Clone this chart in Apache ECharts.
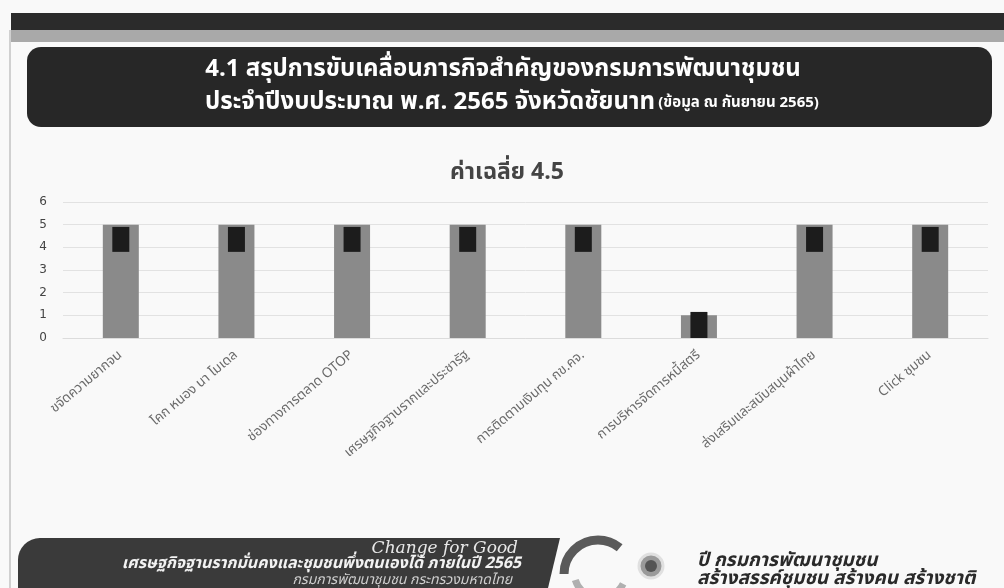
<!DOCTYPE html>
<html>
<head>
<meta charset="utf-8">
<script src="https://cdn.jsdelivr.net/npm/echarts@6/dist/echarts.min.js"></script>
<style>
html,body{margin:0;padding:0;background:#f9f9f9;}
#c{width:1004px;height:588px;}
</style>
</head>
<body>
<div id="c"></div>
<script>
const categories = ['ขจัดความยากจน','โคก หนอง นา โมเดล','ช่องทางการตลาด OTOP','เศรษฐกิจฐานรากและประชารัฐ','การติดตามเงินทุน กข.คจ.','การบริหารจัดการหนี้สตรี','ส่งเสริมและสนับสนุนผ้าไทย','Click ชุมชน'];
const scoreValues = [5, 5, 5, 5, 5, 1, 5, 5];
const markLow = [3.8, 3.8, 3.8, 3.8, 3.8, 0, 3.8, 3.8];
const markHigh = [4.9, 4.9, 4.9, 4.9, 4.9, 1.15, 4.9, 4.9];
const yTicks = [0, 1, 2, 3, 4, 5, 6];

const FONT = 'Tahoma, "Noto Sans Thai", "Noto Sans", sans-serif';
const chart = echarts.init(document.getElementById('c'));

const markSpan = markHigh.map((h, i) => +(h - markLow[i]).toFixed(2));

chart.setOption({
  backgroundColor: '#f9f9f9',
  animation: false,
  title: {
    text: 'ค่าเฉลี่ย 4.5',
    left: 502, top: 158, textAlign: 'center',
    textStyle: {fontFamily: FONT, fontSize: 23, fontWeight: 'bold', color: '#444'}
  },
  grid: {left: 63, right: 16, top: 202, height: 136, containLabel: false},
  xAxis: [
    {type: 'category', data: categories,
     axisLine: {show: true, lineStyle: {color: '#dcdcdc'}}, axisTick: {show: false},
     axisLabel: {rotate: 40, margin: 16, fontSize: 13.5, color: '#6a6a6a', fontFamily: FONT, interval: 0}},
    {type: 'category', data: categories, show: false}
  ],
  yAxis: {
    type: 'value', min: yTicks[0], max: yTicks[yTicks.length - 1], interval: 1,
    axisLine: {show: false}, axisTick: {show: false},
    axisLabel: {fontSize: 12, color: '#444', fontFamily: '"DejaVu Sans", sans-serif', margin: 16},
    splitLine: {lineStyle: {color: '#e2e2e2'}}
  },
  series: [
    {type: 'bar', xAxisIndex: 0, data: scoreValues, barWidth: 36,
     itemStyle: {color: '#8a8a8a'}, z: 2},
    {type: 'bar', xAxisIndex: 1, stack: 'm', data: markLow, barWidth: 17,
     itemStyle: {color: 'rgba(0,0,0,0)'}, z: 3},
    {type: 'bar', xAxisIndex: 1, stack: 'm', data: markSpan, barWidth: 17,
     itemStyle: {color: '#1c1c1c'}, z: 3}
  ],
  graphic: [
    {type: 'rect', shape: {x: 11, y: 13, width: 993, height: 17}, style: {fill: '#2b2b2b'}},
    {type: 'rect', shape: {x: 11, y: 30, width: 993, height: 12}, style: {fill: '#a9a9a9'}},
    {type: 'rect', shape: {x: 9, y: 30, width: 2, height: 558}, style: {fill: '#d0d0d0'}},
    {type: 'rect', shape: {x: 27, y: 47, width: 965, height: 80, r: 14}, style: {fill: '#272727'}},
    {type: 'text', x: 503, y: 71, style: {text: '4.1 สรุปการขับเคลื่อนภารกิจสำคัญของกรมการพัฒนาชุมชน', fill: '#fff', font: 'bold 24px ' + FONT, textAlign: 'center', textVerticalAlign: 'middle'}},
    {type: 'text', x: 512, y: 104, style: {
      text: '{a|ประจำปีงบประมาณ พ.ศ. 2565 จังหวัดชัยนาท} {b|(ข้อมูล ณ กันยายน 2565)}',
      rich: {a: {fill: '#fff', font: 'bold 24px ' + FONT}, b: {fill: '#fff', font: 'bold 15px ' + FONT}},
      textAlign: 'center', textVerticalAlign: 'middle'}},
    {type: 'polygon', shape: {points: [[40, 538], [540, 538], [560, 538], [548, 588], [18, 588], [18, 560]]}, style: {fill: '#3a3a3a'}},
    {type: 'rect', shape: {x: 18, y: 538, width: 60, height: 50, r: [22, 0, 0, 0]}, style: {fill: '#3a3a3a'}},
    {type: 'text', x: 518, y: 549, style: {text: 'Change for Good', fill: '#e8e8e8', font: 'italic 17px "DejaVu Serif", serif', textAlign: 'right', textVerticalAlign: 'middle'}},
    {type: 'text', x: 521, y: 565, style: {text: 'เศรษฐกิจฐานรากมั่นคงและชุมชนพึ่งตนเองได้ ภายในปี 2565', fill: '#f2f2f2', font: 'italic bold 16px ' + FONT, textAlign: 'right', textVerticalAlign: 'middle'}},
    {type: 'text', x: 512, y: 581, style: {text: 'กรมการพัฒนาชุมชน กระทรวงมหาดไทย', fill: '#cfcfcf', font: 'italic 14px ' + FONT, textAlign: 'right', textVerticalAlign: 'middle'}},
    {type: 'arc', shape: {cx: 598, cy: 574, r: 34, startAngle: Math.PI * 1.0, endAngle: Math.PI * 1.72}, style: {stroke: '#5a5a5a', lineWidth: 9, fill: null}},
    {type: 'arc', shape: {cx: 600, cy: 572, r: 26, startAngle: Math.PI * 0.15, endAngle: Math.PI * 0.9}, style: {stroke: '#b0b0b0', lineWidth: 7, fill: null}},
    {type: 'circle', shape: {cx: 651, cy: 566, r: 12}, style: {fill: '#9a9a9a', stroke: '#e0e0e0', lineWidth: 3}},
    {type: 'circle', shape: {cx: 651, cy: 566, r: 6}, style: {fill: '#555'}},
    {type: 'text', x: 697, y: 562, style: {text: 'ปี กรมการพัฒนาชุมชน', fill: '#2a2a2a', font: 'italic bold 19px ' + FONT, textVerticalAlign: 'middle'}},
    {type: 'text', x: 697, y: 580, style: {text: 'สร้างสรรค์ชุมชน สร้างคน สร้างชาติ', fill: '#2a2a2a', font: 'italic bold 19px ' + FONT, textVerticalAlign: 'middle'}}
  ]
});
</script>
</body>
</html>
